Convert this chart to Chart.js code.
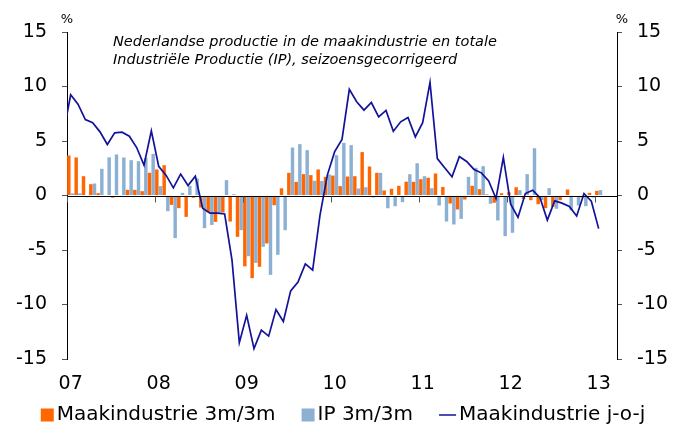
<!DOCTYPE html>
<html>
<head>
<meta charset="utf-8">
<script src="https://cdn.jsdelivr.net/npm/chart.js@4.4.1/dist/chart.umd.min.js"></script>
<style>
  html, body { margin: 0; padding: 0; background: #fff; }
  #wrap { width: 674px; height: 429px; }
</style>
</head>
<body>
<div id="wrap"><canvas id="chart" width="674" height="429"></canvas></div>
<script>
// year labels, one per January (07 = 2007)
const yearLabels = ['07', '08', '09', '10', '11', '12', '13'];

// monthly, Jan 2007 .. Jan 2013
const maak3m = [
  3.67, 3.49, 1.77, 1.04, 0.21, 0, -0.2, 0, 0.52, 0.52, 0.4, 2.08,
  2.39, 2.78, -0.86, -1.16, -1.96, -0.21, -1.1, -1.53, -2.42, -1.56, -2.39, -3.79,
  -6.5, -7.58, -6.54, -4.4, -0.89, 0.66, 2.08, 1.25, 1.96, 1.87, 2.39, 1.71,
  1.83, 0.86, 1.74, 1.77, 3.98, 2.66, 2.08, 0.46, 0.62, 0.89, 1.27, 1.25,
  1.5, 1.63, 2.02, 0.78, -0.73, -1.28, -0.37, 0.89, 0.58, 0.1, -0.67, 0.21,
  0.3, 0.76, -0.31, -0.43, -0.8, -1.16, -1.04, -0.43, 0.55, -0.12, -0.18, 0.24,
  0.43
];
const ip3m = [
  0.2, 0.2, -0.15, 1.1, 2.45, 3.5, 3.76, 3.49, 3.24, 3.15, 3.45, 3.82,
  0.86, -1.44, -3.91, 0.24, 0.89, 1.56, -3.0, -2.7, -1.6, 1.41, 0.12, -3.18,
  -5.57, -6.18, -4.71, -7.28, -5.44, -3.18, 4.4, 4.71, 4.16, 1.35, 1.33, 1.93,
  3.7, 4.83, 4.62, 0.64, 0.76, -0.18, 2.08, -1.17, -0.98, -0.61, 1.95, 2.96,
  1.77, 0.67, -0.92, -2.39, -2.66, -2.14, 1.71, 2.54, 2.69, -0.76, -2.29, -3.73,
  -3.42, 0.49, 1.96, 4.34, -0.43, 0.67, -1.22, 0.05, -1.35, -0.92, -0.98, -0.2,
  0.49
];
// year-on-year, Dec 2006 .. Jan 2013 (first point falls left of the axis)
const maakJoj = [
  5.7,
  9.24, 8.38, 6.97, 6.67, 5.84, 4.68, 5.75, 5.81, 5.44, 4.4, 2.78, 5.93,
  2.68, 1.87, 0.7, 1.96, 0.92, 1.77, -1.16, -1.62, -1.62, -1.7, -5.93, -13.5,
  -11.0, -14.05, -12.35, -12.9, -10.46, -11.56, -8.75, -7.95, -6.27, -6.85, -1.8, 1.87,
  4.02, 5.15, 9.74, 8.6, 7.83, 8.53, 7.22, 7.8, 5.9, 6.76, 7.16, 5.38,
  6.68, 10.37, 3.39, 2.54, 1.71, 3.57, 3.12, 2.39, 2.08, 1.33, -0.28, 3.49,
  -0.8, -2.0, 0.18, 0.49, -0.2, -2.26, -0.49, -0.7, -1.0, -1.88, 0.18, -0.53,
  -3.04
];

const titleLines = [
  'Nederlandse productie in de maakindustrie en totale',
  'Industriële Productie (IP), seizoensgecorrigeerd'
];

const FONT = '"DejaVu Sans", Verdana, sans-serif';
const ORANGE = '#ff6600';
const BLUE = '#8cb0d4';
const NAVY = '#12129a';

// month index -> position on the x scale (bars and points sit mid-month)
const toPoints = (arr, start) => arr.map((v, i) => ({ x: start + i + 0.5, y: v }));

// zero line, year ticks, '%' marks, italic title and the legend row
const extras = {
    id: 'extras',
    afterDatasetsDraw(chart) {
        const { ctx, chartArea, scales } = chart;
        const y0 = Math.round(scales.y.getPixelForValue(0)) + 0.5;
        ctx.save();
        ctx.strokeStyle = '#000';
        ctx.lineWidth = 1;
        ctx.beginPath();
        ctx.moveTo(chartArea.left, y0);
        ctx.lineTo(chartArea.right, y0);
        ctx.stroke();

        ctx.strokeStyle = '#555';
        ctx.beginPath();
        yearLabels.forEach((_, k) => {
            const x = Math.round(scales.x.getPixelForValue(k * 12)) + 0.5;
            ctx.moveTo(x, y0);
            ctx.lineTo(x, y0 + 6);
        });
        ctx.stroke();
        ctx.restore();
    },
    afterDraw(chart) {
        const { ctx, chartArea } = chart;
        ctx.save();
        ctx.fillStyle = '#000';
        ctx.font = '13px ' + FONT;
        ctx.textAlign = 'center';
        ctx.textBaseline = 'alphabetic';
        ctx.fillText('%', chartArea.left, 23);
        ctx.fillText('%', chartArea.right + 5, 23);

        ctx.font = 'italic 14.5px ' + FONT;
        ctx.textAlign = 'left';
        titleLines.forEach((t, k) => ctx.fillText(t, 113, 46 + k * 18));

        // legend row
        ctx.font = '20px ' + FONT;
        ctx.textBaseline = 'middle';
        const items = chart.data.datasets.map(ds => ({
            label: ds.label,
            color: ds.type === 'line' ? ds.borderColor : ds.backgroundColor,
            isLine: ds.type === 'line'
        }));
        const box = 13, lineLen = 17, gap = 3, spacing = 26;
        const widths = items.map(it => (it.isLine ? lineLen : box) + gap + ctx.measureText(it.label).width);
        const total = widths.reduce((a, b) => a + b, 0) + spacing * (items.length - 1);
        let x = (chart.width - total) / 2 + 6;
        const yc = 415;
        items.forEach((it, k) => {
            if (it.isLine) {
                ctx.strokeStyle = it.color;
                ctx.lineWidth = 1.5;
                ctx.beginPath();
                ctx.moveTo(x, yc);
                ctx.lineTo(x + lineLen, yc);
                ctx.stroke();
                ctx.fillText(it.label, x + lineLen + gap, yc);
            } else {
                ctx.fillStyle = it.color;
                ctx.fillRect(x, yc - box / 2, box, box);
                ctx.fillStyle = '#000';
                ctx.fillText(it.label, x + box + gap, yc);
            }
            ctx.fillStyle = '#000';
            x += widths[k] + spacing;
        });
        ctx.restore();
    }
};

const yTicks = {
    stepSize: 5,
    color: '#000',
    font: { family: FONT, size: 19 },
    padding: 15
};

new Chart(document.getElementById('chart'), {
    type: 'bar',
    data: {
        datasets: [
            {
                label: 'Maakindustrie 3m/3m',
                data: toPoints(maak3m, 0),
                backgroundColor: ORANGE,
                categoryPercentage: 1,
                barPercentage: 0.94,
                order: 2
            },
            {
                label: 'IP 3m/3m',
                data: toPoints(ip3m, 0),
                backgroundColor: BLUE,
                categoryPercentage: 1,
                barPercentage: 0.94,
                order: 3
            },
            {
                type: 'line',
                label: 'Maakindustrie j-o-j',
                data: toPoints(maakJoj, -1),
                borderColor: NAVY,
                backgroundColor: NAVY,
                borderWidth: 1.7,
                pointRadius: 0,
                tension: 0,
                order: 1
            }
        ]
    },
    options: {
        responsive: false,
        animation: false,
        devicePixelRatio: 1,
        layout: { padding: { top: 32, bottom: 30, left: 0, right: 0 } },
        plugins: {
            legend: { display: false },
            tooltip: { enabled: false }
        },
        scales: {
            x: {
                type: 'linear',
                min: 0,
                max: 75,
                offset: false,
                grid: { display: false, drawTicks: false },
                border: { display: false },
                afterBuildTicks: scale => {
                    scale.ticks = yearLabels.map((_, k) => ({ value: k * 12 + 0.5 }));
                },
                afterFit: scale => { scale.height = 40; },
                ticks: {
                    autoSkip: false,
                    maxRotation: 0,
                    color: '#000',
                    font: { family: FONT, size: 19 },
                    padding: 14,
                    callback: (value, index) => yearLabels[index]
                }
            },
            y: {
                position: 'left',
                min: -15,
                max: 15,
                grid: { drawOnChartArea: false, tickLength: 5, tickColor: '#555' },
                border: { color: '#000', width: 1 },
                afterFit: scale => { scale.width = 67; },
                ticks: yTicks
            },
            y2: {
                position: 'right',
                min: -15,
                max: 15,
                grid: { drawOnChartArea: false, tickLength: 5, tickColor: '#555' },
                border: { color: '#000', width: 1 },
                afterFit: scale => { scale.width = 57; },
                ticks: yTicks
            }
        }
    },
    plugins: [extras]
});
</script>
</body>
</html>
